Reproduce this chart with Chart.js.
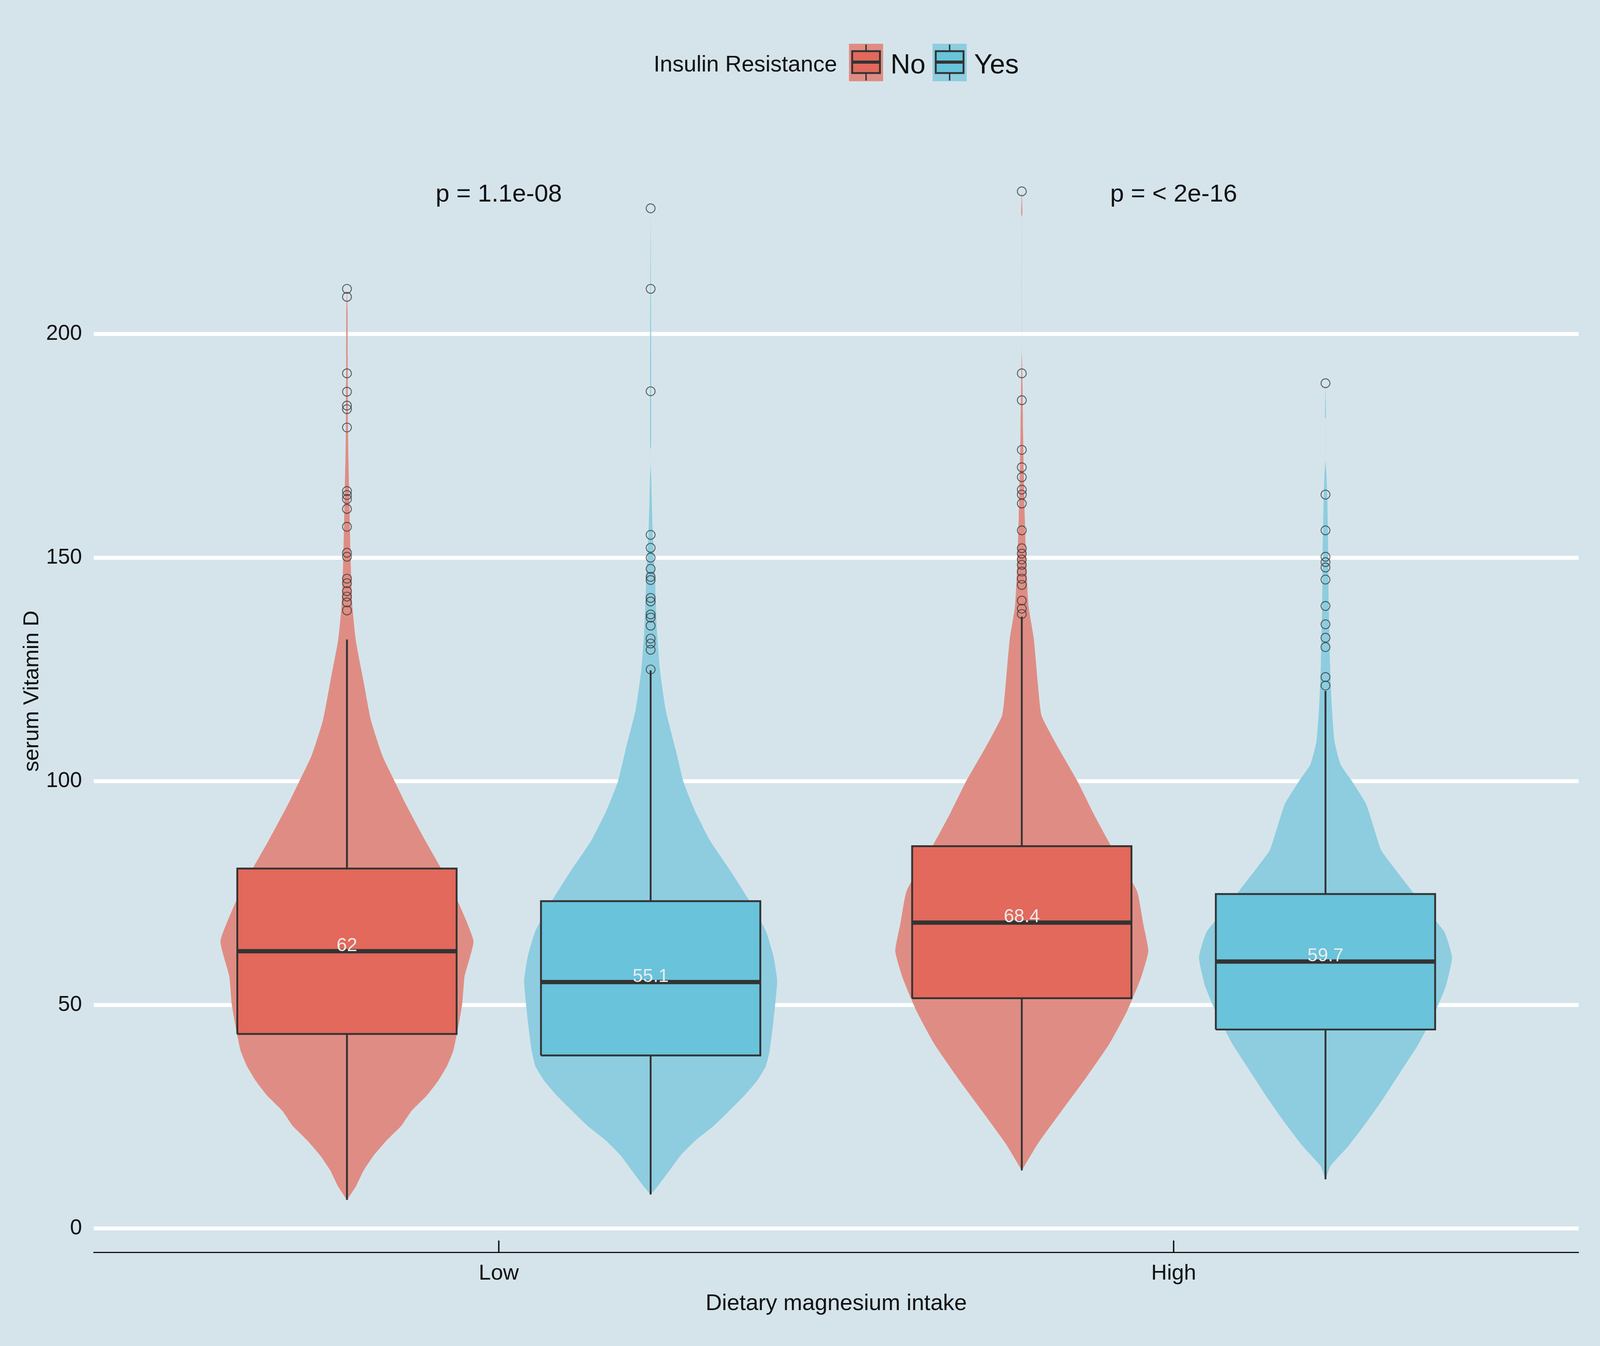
<!DOCTYPE html>
<html>
<head>
<meta charset="utf-8">
<title>serum Vitamin D by dietary magnesium intake</title>
<script src="https://cdn.jsdelivr.net/npm/chart.js@4.4.1/dist/chart.umd.min.js"></script>
<style>
  html, body { margin: 0; padding: 0; background: #d5e4eb; overflow: hidden; }
  canvas { display: block; }
</style>
</head>
<body>
<canvas id="grafico"></canvas>
<script>
        // Categorias y grupos
        const categories = ['Low', 'High'];
        const irGroups = ['No', 'Yes'];
        const legendTitle = 'Insulin Resistance';
        const pLabels = ['p = 1.1e-08', 'p = < 2e-16'];
        const yTickValues = [0, 50, 100, 150, 200];

        // Resumen de cajas: Low-No, Low-Yes, High-No, High-Yes
        const boxMedian = [62.0, 55.1, 68.4, 59.7];
        const boxQ1 = [43.5, 38.7, 51.5, 44.5];
        const boxQ3 = [80.5, 73.2, 85.5, 74.8];
        const whiskerLow = [6.4, 7.6, 13.0, 11.0];
        const whiskerHigh = [131.7, 124.8, 136.8, 120.2];
        const medianLabels = ['62', '55.1', '68.4', '59.7'];

        // Valores atipicos
        const outliersLowNo = [210.1, 208.3, 191.2, 187.1, 184.0, 183.2, 179.1, 164.9, 164.0, 163.1, 160.9, 156.9, 151.1, 150.2, 145.3, 144.3, 142.5, 141.3, 140.0, 138.2];
        const outliersLowYes = [228.1, 210.1, 187.2, 155.1, 152.2, 150.0, 147.5, 145.7, 145.0, 141.0, 140.2, 137.3, 136.6, 134.8, 131.9, 130.8, 129.4, 125.0];
        const outliersHighNo = [231.9, 191.2, 185.2, 174.1, 170.2, 168.0, 165.2, 164.1, 162.1, 156.1, 152.1, 150.9, 149.6, 148.4, 146.9, 145.3, 143.9, 140.4, 138.6, 137.4];
        const outliersHighYes = [189.0, 164.1, 156.1, 150.2, 149.0, 147.8, 145.1, 139.2, 135.1, 132.1, 130.0, 123.3, 121.4];

        // Perfil de densidad de cada violin (valor y, ancho relativo)
        const violinY_LowNo = [6.4, 9.6, 12.9, 16.3, 19.6, 23.0, 26.3, 29.7, 33.0, 36.3, 39.7, 43.7, 50.0, 56.4, 64.2, 71.0, 77.7, 86.7, 94.6, 99.8, 105.7, 113.6, 122.5, 131.5, 139.4, 150.6, 161.8, 171.9, 180, 195, 205, 210.1];
        const violinW_LowNo = [0, 0.074, 0.13, 0.21, 0.31, 0.43, 0.51, 0.63, 0.72, 0.79, 0.84, 0.87, 0.91, 0.93, 1.0, 0.91, 0.80, 0.62, 0.47, 0.38, 0.28, 0.19, 0.13, 0.07, 0.042, 0.028, 0.02, 0.012, 0.008, 0.006, 0.005, 0];
        const violinY_LowYes = [7.6, 9.6, 12.9, 16.3, 19.6, 23.0, 26.3, 29.7, 33.0, 36.3, 39.7, 46.3, 55.3, 61.0, 66.6, 73.3, 80.0, 86.7, 93.4, 99.8, 106.8, 115.8, 124.8, 133.7, 144.9, 156.2, 163, 168, 171, 174, 175, 200, 228.1];
        const violinW_LowYes = [0, 0.06, 0.147, 0.235, 0.35, 0.50, 0.62, 0.74, 0.84, 0.91, 0.94, 0.97, 1.0, 0.97, 0.91, 0.78, 0.63, 0.47, 0.35, 0.26, 0.20, 0.12, 0.074, 0.05, 0.035, 0.016, 0.009, 0.005, 0, 0, 0.004, 0.004, 0];
        const violinY_HighNo = [13.0, 19.1, 26.5, 33.8, 41.2, 48.5, 55.9, 62.0, 68.1, 75.5, 85.3, 92.6, 100.0, 107.4, 114.7, 122.1, 131.9, 139.2, 149.0, 158.8, 168.6, 178.4, 188.2, 197.4, 226, 227, 231.9];
        const violinW_HighNo = [0, 0.13, 0.32, 0.51, 0.69, 0.83, 0.94, 1.0, 0.96, 0.91, 0.71, 0.57, 0.44, 0.29, 0.156, 0.126, 0.095, 0.053, 0.035, 0.024, 0.016, 0.01, 0.006, 0, 0, 0.005, 0];
        const violinY_HighYes = [11.0, 14.0, 18.4, 23.6, 28.8, 34.9, 41.0, 48.0, 54.1, 60.6, 66.3, 71.5, 76.7, 81.1, 84.6, 89.8, 95.0, 100.0, 103.7, 109.0, 117.7, 126.4, 139.5, 151.5, 163.7, 168.6, 172, 181, 181.5, 189.0];
        const violinW_HighYes = [0, 0.04, 0.18, 0.32, 0.45, 0.59, 0.73, 0.86, 0.95, 1.0, 0.94, 0.79, 0.65, 0.53, 0.44, 0.38, 0.32, 0.21, 0.12, 0.071, 0.048, 0.036, 0.026, 0.022, 0.014, 0.008, 0, 0, 0.004, 0];

        // Escala: medidas tomadas sobre la imagen de 4550 x 3446
        const SX = window.innerWidth / 4550;
        const SY = window.innerHeight / 3446;
        const SF = Math.sqrt(SX * SY);
        const px = (v) => v * SX;
        const py = (v) => v * SY;
        const pf = (v) => v * SF;

        const bgColor = '#d5e4eb';
        const violinColors = ['#df8d84', '#8dcddf'];
        const boxColors = ['#e2695b', '#68c3db'];
        const lineColor = '#333333';
        const textColor = '#111111';
        const fontFamily = "'Liberation Sans', Arial, sans-serif";
        const dodge = [-0.225, 0.225];
        const violinHalf = 0.1875;
        const boxHalf = 0.1625;

        const canvas = document.getElementById('grafico');
        canvas.style.width = window.innerWidth + 'px';
        canvas.style.height = window.innerHeight + 'px';

        const violinYs = [violinY_LowNo, violinY_LowYes, violinY_HighNo, violinY_HighYes];
        const violinWs = [violinW_LowNo, violinW_LowYes, violinW_HighNo, violinW_HighYes];
        const outliers = [outliersLowNo, outliersLowYes, outliersHighNo, outliersHighYes];

        // Construir datasets
        const datasets = [];
        for (let g = 0; g < 4; g++) {
            const cat = Math.floor(g / 2);
            const ir = g % 2;
            const cx = cat + 1 + dodge[ir];
            const ys = violinYs[g];
            const ws = violinWs[g];

            const right = ys.map((y, i) => ({x: cx + ws[i] * violinHalf, y: y}));
            const left = ys.map((y, i) => ({x: cx - ws[i] * violinHalf, y: y})).reverse();
            datasets.push({
                label: 'violin ' + categories[cat] + ' ' + irGroups[ir],
                data: right.concat(left),
                showLine: true,
                fill: 'shape',
                backgroundColor: violinColors[ir],
                borderWidth: 0,
                pointRadius: 0,
                tension: 0.15,
                order: 5
            });

            datasets.push({
                label: 'whisker high',
                data: [{x: cx, y: boxQ3[g]}, {x: cx, y: whiskerHigh[g]}],
                showLine: true, fill: false, borderColor: lineColor, borderWidth: pf(5),
                pointRadius: 0, order: 4
            });
            datasets.push({
                label: 'whisker low',
                data: [{x: cx, y: boxQ1[g]}, {x: cx, y: whiskerLow[g]}],
                showLine: true, fill: false, borderColor: lineColor, borderWidth: pf(5),
                pointRadius: 0, order: 4
            });

            datasets.push({
                label: 'box',
                data: [
                    {x: cx - boxHalf, y: boxQ1[g]}, {x: cx + boxHalf, y: boxQ1[g]},
                    {x: cx + boxHalf, y: boxQ3[g]}, {x: cx - boxHalf, y: boxQ3[g]},
                    {x: cx - boxHalf, y: boxQ1[g]}
                ],
                showLine: true, fill: 'shape', backgroundColor: boxColors[ir],
                borderColor: lineColor, borderWidth: pf(5), pointRadius: 0, order: 3
            });
            datasets.push({
                label: 'median',
                data: [{x: cx - boxHalf, y: boxMedian[g]}, {x: cx + boxHalf, y: boxMedian[g]}],
                showLine: true, fill: false, borderColor: lineColor, borderWidth: py(11),
                borderCapStyle: 'butt', pointRadius: 0, order: 2
            });

            datasets.push({
                label: 'outliers',
                data: outliers[g].map(v => ({x: cx, y: v})),
                showLine: false,
                pointStyle: 'circle',
                pointRadius: pf(12),
                pointBackgroundColor: 'rgba(0,0,0,0)',
                pointBorderColor: 'rgba(55,55,55,0.75)',
                pointBorderWidth: pf(2.5),
                order: 1
            });
        }

        // Fondo del lienzo
        const bgPlugin = {
            id: 'bg',
            beforeDraw(chart) {
                const ctx = chart.ctx;
                ctx.save();
                ctx.fillStyle = bgColor;
                ctx.fillRect(0, 0, chart.width, chart.height);
                ctx.restore();
            }
        };

        // Dibuja una clave de leyenda (caja con bigotes) en x, devuelve su ancho
        function drawKey(ctx, x, i) {
            const w = px(97);
            ctx.fillStyle = violinColors[i];
            ctx.fillRect(x, py(112), w, py(96));
            const mid = x + w / 2;
            ctx.strokeStyle = lineColor;
            ctx.lineWidth = px(4);
            ctx.beginPath();
            ctx.moveTo(mid, py(114)); ctx.lineTo(mid, py(131));
            ctx.moveTo(mid, py(186)); ctx.lineTo(mid, py(206));
            ctx.stroke();
            ctx.fillStyle = boxColors[i];
            ctx.fillRect(x + px(9), py(131), px(79), py(56));
            ctx.lineWidth = pf(5);
            ctx.strokeRect(x + px(9), py(131), px(79), py(56));
            ctx.lineWidth = py(8);
            ctx.beginPath();
            ctx.moveTo(x + px(9), py(159)); ctx.lineTo(x + px(88), py(159));
            ctx.stroke();
            return w;
        }

        // Etiquetas de mediana, valores p, marcas del eje x y leyenda
        const annoPlugin = {
            id: 'anno',
            afterDatasetsDraw(chart) {
                const ctx = chart.ctx;
                const xs = chart.scales.x;
                const ys = chart.scales.y;
                ctx.save();
                ctx.font = pf(50) + 'px ' + fontFamily;
                ctx.fillStyle = '#ececec';
                ctx.textAlign = 'center';
                ctx.textBaseline = 'middle';
                for (let g = 0; g < 4; g++) {
                    const cx = Math.floor(g / 2) + 1 + dodge[g % 2];
                    ctx.fillText(medianLabels[g], xs.getPixelForValue(cx), ys.getPixelForValue(boxMedian[g] + 1.2));
                }
                ctx.font = pf(67) + 'px ' + fontFamily;
                ctx.fillStyle = textColor;
                ctx.textBaseline = 'alphabetic';
                categories.forEach((c, i) => {
                    ctx.fillText(pLabels[i], xs.getPixelForValue(i + 1), ys.getPixelForValue(229.6));
                });
                ctx.restore();
            },
            afterDraw(chart) {
                const ctx = chart.ctx;
                const xs = chart.scales.x;
                const area = chart.chartArea;
                ctx.save();
                // marcas del eje x hacia arriba
                ctx.strokeStyle = textColor;
                ctx.lineWidth = px(4);
                categories.forEach((c, i) => {
                    const p = xs.getPixelForValue(i + 1);
                    ctx.beginPath();
                    ctx.moveTo(p, area.bottom);
                    ctx.lineTo(p, area.bottom - py(30));
                    ctx.stroke();
                });

                // leyenda centrada sobre el panel
                const titleFont = pf(61) + 'px ' + fontFamily;
                const labelFont = pf(74) + 'px ' + fontFamily;
                ctx.font = titleFont;
                const titleW = ctx.measureText(legendTitle).width;
                ctx.font = labelFont;
                const labelWs = irGroups.map(n => ctx.measureText(n).width);
                const keyW = px(97), gapTitle = px(34), gapLabel = px(21), gapItem = px(20);
                const total = titleW + gapTitle + (keyW + gapLabel) * 2 + labelWs[0] + gapItem + labelWs[1];
                let x = (area.left + area.right) / 2 - total / 2;

                ctx.textBaseline = 'alphabetic';
                ctx.textAlign = 'left';
                ctx.fillStyle = textColor;
                ctx.font = titleFont;
                ctx.fillText(legendTitle, x, py(183));
                x += titleW + gapTitle;
                irGroups.forEach((name, i) => {
                    x += drawKey(ctx, x, i) + gapLabel;
                    ctx.fillStyle = textColor;
                    ctx.font = labelFont;
                    ctx.fillText(name, x, py(188));
                    x += labelWs[i] + gapItem;
                });
                ctx.restore();
            }
        };

        // Configurar opciones del grafico
        const chartOptions = {
            responsive: false,
            animation: false,
            layout: { padding: { top: py(333), right: px(61), left: 0, bottom: 0 } },
            plugins: {
                legend: { display: false },
                tooltip: { enabled: false }
            },
            scales: {
                x: {
                    type: 'linear',
                    position: 'bottom',
                    min: 0.4,
                    max: 2.6,
                    afterBuildTicks: (scale) => { scale.ticks = categories.map((c, i) => ({value: i + 1})); },
                    afterFit: (scale) => { scale.height = py(240); },
                    grid: { display: false, drawTicks: false },
                    border: { display: true, color: textColor, width: py(3) },
                    ticks: {
                        autoSkip: false,
                        maxRotation: 0,
                        padding: py(21),
                        color: textColor,
                        font: { family: fontFamily, size: pf(59) },
                        callback: (v) => categories[Math.round(v) - 1]
                    },
                    title: {
                        display: true,
                        text: 'Dietary magnesium intake',
                        color: textColor,
                        font: { family: fontFamily, size: pf(61) },
                        padding: { top: 0, bottom: py(73) }
                    }
                },
                y: {
                    type: 'linear',
                    min: -5.3,
                    max: 245.6,
                    afterBuildTicks: (scale) => { scale.ticks = yTickValues.map(v => ({value: v})); },
                    afterFit: (scale) => { scale.width = px(267); },
                    grid: { color: '#ffffff', lineWidth: py(10), drawTicks: false },
                    border: { display: false },
                    ticks: {
                        padding: px(34),
                        color: textColor,
                        font: { family: fontFamily, size: pf(58) }
                    },
                    title: {
                        display: true,
                        text: 'serum Vitamin D',
                        color: textColor,
                        font: { family: fontFamily, size: pf(59) },
                        padding: { top: px(54), bottom: 0 }
                    }
                }
            }
        };

        // Crear el grafico
        canvas.width = window.innerWidth;
        canvas.height = window.innerHeight;
        const ctx = canvas.getContext('2d');
        const chart = new Chart(ctx, {
            type: 'scatter',
            data: { datasets: datasets },
            options: chartOptions,
            plugins: [bgPlugin, annoPlugin]
        });
</script>
</body>
</html>
